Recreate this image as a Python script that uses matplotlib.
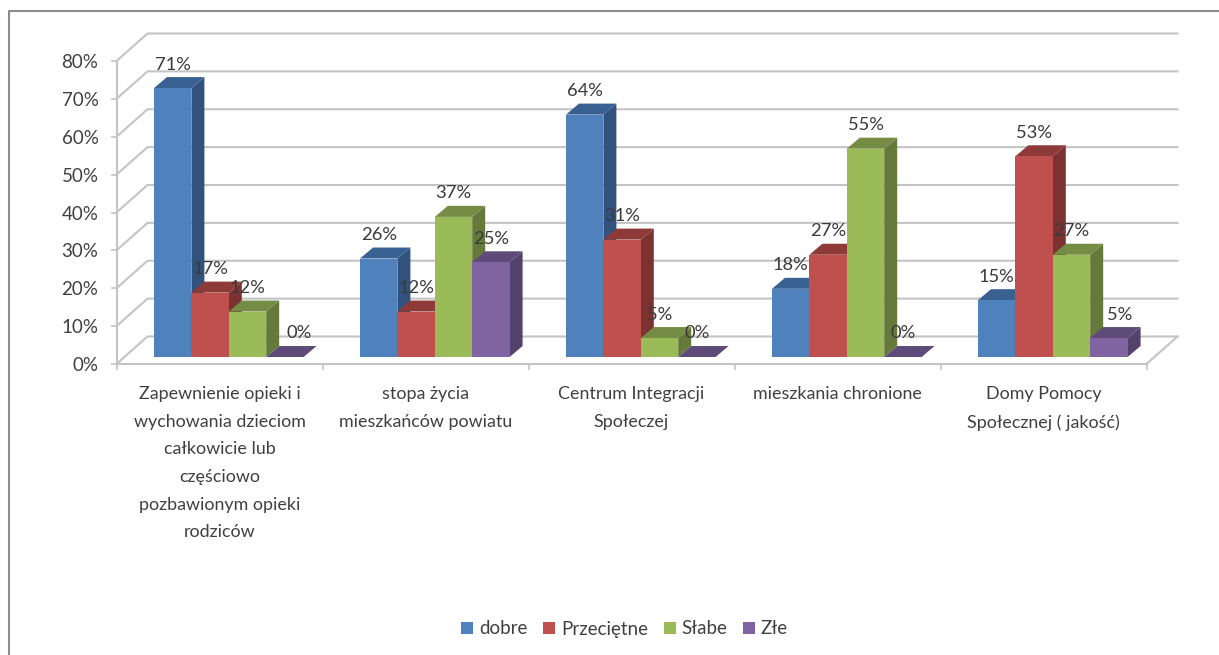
"""
    Ocena usług społecznych - wykres słupkowy z efektem 3D
"""
import numpy as np
from matplotlib import pyplot as plt
from matplotlib.patches import Patch, Polygon, Rectangle

CATEGORIES = [
    "Zapewnienie opieki i\nwychowania dzieciom\ncałkowicie lub\nczęściowo\npozbawionym opieki\nrodziców",
    "stopa życia\nmieszkańców powiatu",
    "Centrum Integracji\nSpołeczej",
    "mieszkania chronione",
    "Domy Pomocy\nSpołecznej ( jakość)",
]
SERIES = ["dobre", "Przeciętne", "Słabe", "Złe"]
DOBRE = [71, 26, 64, 18, 15]
PRZECIETNE = [17, 12, 31, 27, 53]
SLABE = [12, 37, 5, 55, 27]
ZLE = [0, 25, 0, 0, 5]
Y_TICKS = [0, 10, 20, 30, 40, 50, 60, 70, 80]

FRONT_COLORS = ["#4F81BD", "#C0504D", "#9BBB59", "#8064A2"]
TOP_COLORS = ["#386192", "#8E3A38", "#748C43", "#5F4B79"]
SIDE_COLORS = ["#30527D", "#7B3230", "#64793A", "#54426C"]
GRID_COLOR = "#C4C4C4"
TEXT_COLOR = "#404040"

# scale of the axes in pixels per data unit
PX_X = 1030.0 / 5
PX_Y = 303.0 / 80

WALL_DX, WALL_DY = 31 / PX_X, 27.5 / PX_Y
BAR_DX, BAR_DY = 13 / PX_X, 11 / PX_Y
BAR_WIDTH = 37.4 / PX_X
GROUP_START = 0.182
BASE_Y = 7 / PX_Y

plt.rcParams['font.family'] = ['Lato', 'DejaVu Sans']


def draw_bar(ax, x, value, series_id, zorder):
    top = BASE_Y + value
    base = BASE_Y
    ax.add_patch(Polygon([(x + BAR_WIDTH, base), (x + BAR_WIDTH + BAR_DX, base + BAR_DY),
                          (x + BAR_WIDTH + BAR_DX, top + BAR_DY), (x + BAR_WIDTH, top)],
                         color=SIDE_COLORS[series_id], lw=0, zorder=zorder, clip_on=False))
    ax.add_patch(Polygon([(x, top), (x + BAR_DX, top + BAR_DY),
                          (x + BAR_WIDTH + BAR_DX, top + BAR_DY), (x + BAR_WIDTH, top)],
                         color=TOP_COLORS[series_id], lw=0, zorder=zorder, clip_on=False))
    ax.add_patch(Rectangle((x, base), BAR_WIDTH, value, color=FRONT_COLORS[series_id],
                           lw=0, zorder=zorder, clip_on=False))


def draw_walls(ax):
    for tick in Y_TICKS:
        ax.plot([0, WALL_DX, 5 + WALL_DX], [tick, tick + WALL_DY, tick + WALL_DY],
                color=GRID_COLOR, lw=1.5, zorder=1, clip_on=False)
    # floor edge on the right
    ax.plot([5, 5 + WALL_DX], [0, WALL_DY], color=GRID_COLOR, lw=1.5, zorder=1, clip_on=False)


def main():
    fig = plt.figure(figsize=(12.19, 6.55), dpi=100)
    ax = fig.add_axes([116.5 / 1219, 1 - 364 / 655, 1030 / 1219, 303 / 655])
    ax.set_xlim(0, 5)
    ax.set_ylim(0, 80)

    # outer chart border, open on the right and at the bottom
    fig.add_artist(plt.Line2D([9 / 1219, 9 / 1219, 1], [0, 1 - 11 / 655, 1 - 11 / 655],
                              color="#8C8C8C", lw=1.5))

    draw_walls(ax)

    for side in ("top", "right"):
        ax.spines[side].set_visible(False)
    for side in ("left", "bottom"):
        ax.spines[side].set_color(GRID_COLOR)
        ax.spines[side].set_linewidth(1.5)

    ax.set_yticks(Y_TICKS)
    ax.set_yticklabels([f"{t}%" for t in Y_TICKS], fontsize=13.5, color=TEXT_COLOR)
    ax.tick_params(axis="y", length=4, color=GRID_COLOR, width=1.2, pad=9)
    ax.set_xticks(np.arange(6))
    ax.set_xticklabels([])
    ax.tick_params(axis="x", which="major", length=4, color=GRID_COLOR, width=1.2)
    ax.set_xticks(np.arange(5) + 0.5, minor=True)
    ax.set_xticklabels(CATEGORIES, minor=True, fontsize=12.9, color=TEXT_COLOR, linespacing=1.89,
                       va="top")
    ax.tick_params(axis="x", which="minor", length=0, pad=16)

    values = [DOBRE, PRZECIETNE, SLABE, ZLE]
    # a few labels sit to the right of their bar
    label_shift = {(0, 3): 14, (4, 3): 11}
    for cat_id in range(len(CATEGORIES)):
        for series_id, series in enumerate(values):
            x = cat_id + GROUP_START + series_id * BAR_WIDTH
            draw_bar(ax, x, series[cat_id], series_id, 3 + cat_id * 4 + series_id)
            shift = label_shift.get((cat_id, series_id), 0) / PX_X
            ax.text(x + BAR_WIDTH / 2 + shift, BASE_Y + series[cat_id] + 23.5 / PX_Y,
                    f"{series[cat_id]}%", ha="center", va="center", fontsize=13.2,
                    color="#3A3A3A", zorder=40, clip_on=False)

    handles = [Patch(facecolor=c, edgecolor="none") for c in FRONT_COLORS]
    fig.legend(handles, SERIES, ncol=4, loc="center", bbox_to_anchor=(624.5 / 1219, 1 - 629 / 655),
               frameon=False, fontsize=13.5, labelcolor=TEXT_COLOR, handlelength=0.64, handleheight=0.64,
               handletextpad=0.3, columnspacing=0.84, borderpad=0)

    plt.savefig("out.png", dpi=100)
    plt.close()


if __name__ == "__main__":
    main()
